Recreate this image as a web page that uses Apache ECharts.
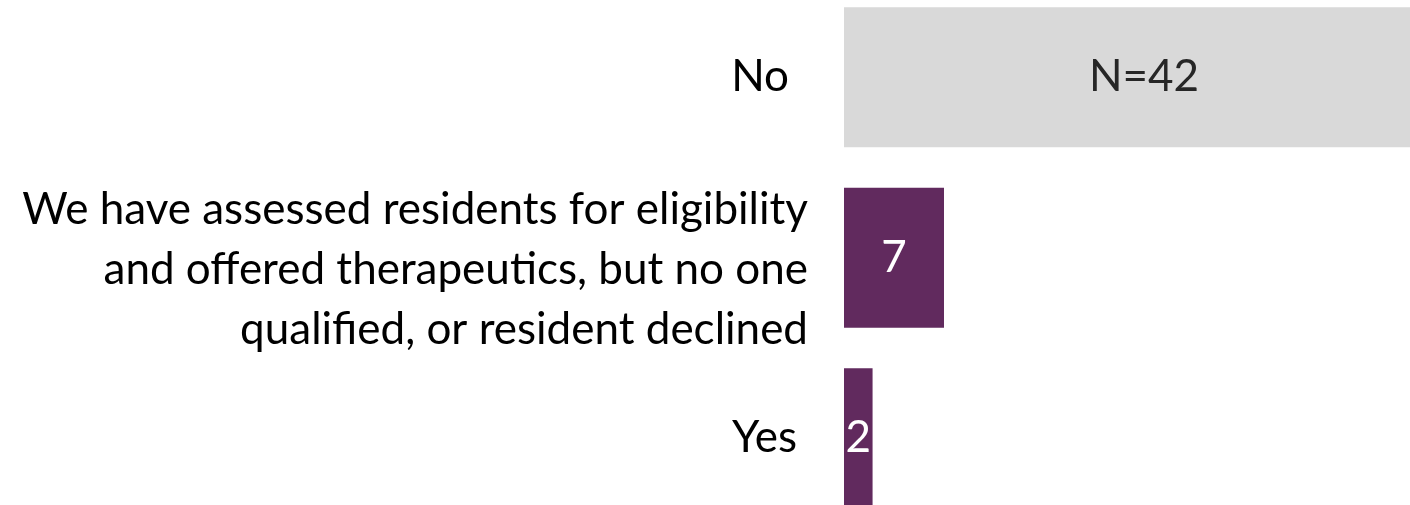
<!DOCTYPE html>
<html>
<head>
<meta charset="utf-8">
<script src="https://cdn.jsdelivr.net/npm/echarts@6/dist/echarts.min.js"></script>
<style>
html,body{margin:0;padding:0;background:#fff;}
#chart{width:1410px;height:505px;}
</style>
</head>
<body>
<div id="chart"></div>
<script>
var categories = ['No', 'We have assessed residents for eligibility\nand offered therapeutics, but no one\nqualified, or resident declined', 'Yes'];
var values = [42, 7, 2];
var valueLabels = ['N=42', '7', '2'];
var barColors = ['#D9D9D9', '#612A5E', '#612A5E'];
var labelColors = ['#262626', '#FFFFFF', '#FFFFFF'];

var chart = echarts.init(document.getElementById('chart'));
var FONT = 'Lato';
chart.setOption({
  animation: false,
  grid: { left: 844, top: -13, width: 600, height: 541.5, containLabel: false, outerBoundsMode: 'none' },
  xAxis: { type: 'value', min: 0, max: 42, show: false },
  yAxis: {
    type: 'category', inverse: true, data: categories,
    axisLine: { show: false }, axisTick: { show: false },
    axisLabel: {
      margin: 36, color: '#000', fontFamily: FONT, fontSize: 44, lineHeight: 60, align: 'right',
      formatter: function (v) {
        if (v === 'No') return '{no|' + v + '}';
        if (v === 'Yes') return '{yes|' + v + '}';
        return '{sp| }\n' + v.split('\n').map(function (s) { return '{t|' + s + '}'; }).join('\n');
      },
      rich: {
        no: { fontFamily: FONT, fontSize: 44, color: '#000', padding: [0, 19, 0, 0] },
        yes: { fontFamily: FONT, fontSize: 44, color: '#000', padding: [0, 11, 0, 0] },
        sp: { fontSize: 4, lineHeight: 24 },
        t: { fontFamily: FONT, fontSize: 44, lineHeight: 60, color: '#000' }
      }
    }
  },
  series: [{
    type: 'bar', barWidth: 140, clip: false,
    data: values.map(function (v, i) {
      return {
        value: v,
        itemStyle: { color: barColors[i] },
        label: { show: true, position: 'inside', formatter: valueLabels[i], color: labelColors[i], fontFamily: FONT, fontSize: 44 }
      };
    })
  }]
});
</script>
</body>
</html>
